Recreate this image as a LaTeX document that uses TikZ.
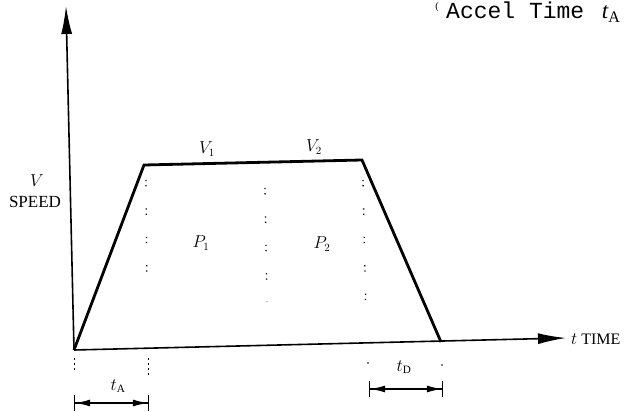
\documentclass[tikz,border=0pt]{standalone}
\usepackage{fontspec}
\setmainfont{Liberation Serif}
\newfontfamily\monof{Liberation Mono}
\usetikzlibrary{arrows.meta}
\begin{document}
\begin{tikzpicture}[x=1pt,y=-1pt,
  axis/.style={line width=1.6pt,-{Latex[length=28pt,width=11pt]}},
  prof/.style={line width=2.8pt,line join=miter},
  dotv/.style={line width=1.3pt,dash pattern=on 1.2pt off 4pt on 1.2pt off 22pt},
  dim/.style={line width=1.2pt,{Bar[width=16pt]Latex[length=15pt,width=7pt]}-{Latex[length=15pt,width=7pt]Bar[width=16pt]}},
  lbl/.style={font=\fontsize{16}{18}\selectfont,inner sep=0pt}]
\useasboundingbox (0,0) rectangle (632,412);
% axes
\coordinate (O) at (74,350);
\coordinate (Ytop) at (66,6);
\coordinate (Xend) at (566,338);
\draw[axis] (O) -- (Ytop);
\draw[axis] (O) -- (Xend);
% profile
\coordinate (A) at (144,165);
\coordinate (B) at (362,160);
\coordinate (C) at (441,342);
\draw[prof] (O) -- (A) -- (B) -- (C);
% dotted guides
\coordinate (d1a) at (146,180); \coordinate (d1b) at (147,292);
\coordinate (d2a) at (265,188); \coordinate (d2b) at (267,302);
\coordinate (d3a) at (363,180); \coordinate (d3b) at (366,320);
\draw[dotv] (d1a) -- (d1b);
\draw[dotv] (d2a) -- (d2b);
\draw[dotv] (d3a) -- (d3b);
\coordinate (e1a) at (74,358); \coordinate (e1b) at (74,372);
\coordinate (e2a) at (148,358); \coordinate (e2b) at (148,376);
\draw[line width=1pt,dash pattern=on 2pt off 3pt] (e1a) -- (e1b);
\draw[line width=1pt,dash pattern=on 2pt off 3pt] (e2a) -- (e2b);
\fill (368,363) circle (0.9pt);
\fill (442,365) circle (0.9pt);
% dimensions
\coordinate (ta1) at (74,403); \coordinate (ta2) at (149,403);
\draw[dim] (ta1) -- (ta2);
\coordinate (td1) at (369,389); \coordinate (td2) at (443,389);
\draw[dim] (td1) -- (td2);
% labels
\node[lbl] (tA) at (118,386) {$t_{\mathrm{A}}$};
\node[lbl] (tD) at (404,367) {$t_{\mathrm{D}}$};
\node[lbl] (V1) at (207,149) {$V_1$};
\node[lbl] (V2) at (314,147) {$V_2$};
\node[lbl] (P1) at (201,243) {$P_1$};
\node[lbl] (P2) at (322,244) {$P_2$};
\node[lbl] (Vlab) at (37,181) {$V$};
\node[lbl,font=\fontsize{17}{18}\selectfont] (speed) at (35,202) {SPEED};
\node[lbl,anchor=west] (time) at (571,339) {$t$ TIME};
\node[inner sep=0pt,anchor=base west,font=\monof\fontsize{23}{24}\selectfont] (acc) at (446,19) {Accel Time \,\rmfamily\itshape t\textsubscript{\upshape A}};
\node[inner sep=0pt,font=\fontsize{10}{10}\selectfont] (paren) at (437,7) {(};
\end{tikzpicture}
\end{document}
